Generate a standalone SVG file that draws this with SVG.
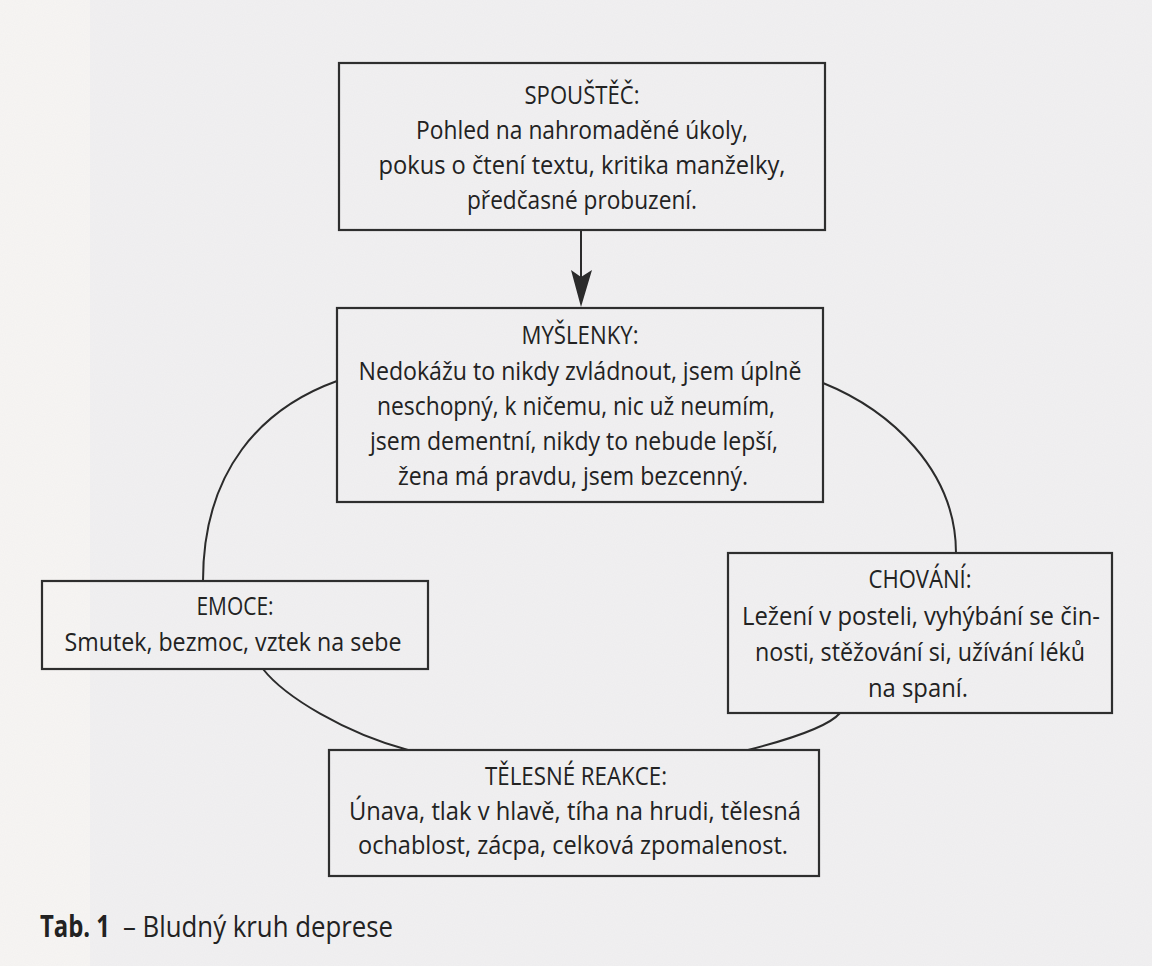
<svg xmlns="http://www.w3.org/2000/svg" width="1152" height="966" viewBox="0 0 1152 966">
  <defs>
    <filter id="paper" x="0" y="0" width="100%" height="100%">
      <feTurbulence type="fractalNoise" baseFrequency="0.9" numOctaves="2" seed="3" result="n"/>
      <feColorMatrix type="matrix" values="0 0 0 0 0.55  0 0 0 0 0.56  0 0 0 0 0.6  0 0 0 0.09 0"/>
    </filter>
    <style>
      .box { fill: none; stroke: #2e2e2e; stroke-width: 2.2; }
      .link { fill: none; stroke: #2b2b2b; stroke-width: 2; }
      .t { font-family: "Open Sans", "Noto Sans", "Liberation Sans", sans-serif; font-size: 25.5px; fill: #222; text-anchor: middle; }
      .cap { font-family: "Open Sans", "Noto Sans", "Liberation Sans", sans-serif; font-size: 30px; fill: #222; }
    </style>
  </defs>

  <rect x="0" y="0" width="1152" height="966" fill="#f1f0f1"/>
  <rect x="0" y="0" width="90" height="966" fill="#f7f5f3"/>
  <rect x="0" y="0" width="1152" height="966" filter="url(#paper)"/>

  <g id="connectors">
    <line class="link" x1="581" y1="230" x2="581" y2="280"/>
    <polygon points="571,270 581,277 592,270 581,307" fill="#2b2b2b"/>
    <path class="link" d="M337,381 C262,408 203,470 203,581"/>
    <path class="link" d="M823,383 C890,410 956,470 956,553"/>
    <path class="link" d="M263,669 C285,697 345,733 408,750"/>
    <path class="link" d="M840,713 C830,725 795,738 748,750"/>
  </g>

  <g id="spoustec">
    <rect class="box" x="339" y="63" width="486" height="167"/>
    <text class="t" x="582" y="104" textLength="115" lengthAdjust="spacingAndGlyphs">SPOUŠTĚČ:</text>
    <text class="t" x="582" y="139" textLength="332" lengthAdjust="spacingAndGlyphs">Pohled na nahromaděné úkoly,</text>
    <text class="t" x="582" y="174" textLength="407" lengthAdjust="spacingAndGlyphs">pokus o čtení textu, kritika manželky,</text>
    <text class="t" x="582" y="209" textLength="230" lengthAdjust="spacingAndGlyphs">předčasné probuzení.</text>
  </g>

  <g id="myslenky">
    <rect class="box" x="337" y="308" width="486" height="194"/>
    <text class="t" x="580" y="344" textLength="117" lengthAdjust="spacingAndGlyphs">MYŠLENKY:</text>
    <text class="t" x="580" y="380" textLength="443" lengthAdjust="spacingAndGlyphs">Nedokážu to nikdy zvládnout, jsem úplně</text>
    <text class="t" x="576" y="415" textLength="398" lengthAdjust="spacingAndGlyphs">neschopný, k ničemu, nic už neumím,</text>
    <text class="t" x="574" y="450" textLength="408" lengthAdjust="spacingAndGlyphs">jsem dementní, nikdy to nebude lepší,</text>
    <text class="t" x="573" y="485" textLength="350" lengthAdjust="spacingAndGlyphs">žena má pravdu, jsem bezcenný.</text>
  </g>

  <g id="emoce">
    <rect class="box" x="42" y="581" width="386" height="88"/>
    <text class="t" x="235" y="615" textLength="77" lengthAdjust="spacingAndGlyphs">EMOCE:</text>
    <text class="t" x="233" y="651" textLength="337" lengthAdjust="spacingAndGlyphs">Smutek, bezmoc, vztek na sebe</text>
  </g>

  <g id="chovani">
    <rect class="box" x="728" y="553" width="384" height="160"/>
    <text class="t" x="920" y="588" textLength="103" lengthAdjust="spacingAndGlyphs">CHOVÁNÍ:</text>
    <text class="t" x="921" y="625" textLength="358" lengthAdjust="spacingAndGlyphs">Ležení v posteli, vyhýbání se čin-</text>
    <text class="t" x="920" y="661" textLength="330" lengthAdjust="spacingAndGlyphs">nosti, stěžování si, užívání léků</text>
    <text class="t" x="918" y="697" textLength="100" lengthAdjust="spacingAndGlyphs">na spaní.</text>
  </g>

  <g id="telesne-reakce">
    <rect class="box" x="329" y="750" width="490" height="126"/>
    <text class="t" x="576" y="785" textLength="182" lengthAdjust="spacingAndGlyphs">TĚLESNÉ REAKCE:</text>
    <text class="t" x="575" y="820" textLength="452" lengthAdjust="spacingAndGlyphs">Únava, tlak v hlavě, tíha na hrudi, tělesná</text>
    <text class="t" x="573" y="854" textLength="430" lengthAdjust="spacingAndGlyphs">ochablost, zácpa, celková zpomalenost.</text>
  </g>

  <g id="caption">
    <text class="cap" x="40" y="937" font-weight="bold" textLength="70" lengthAdjust="spacingAndGlyphs">Tab. 1</text>
    <text class="cap" x="123" y="937" textLength="270" lengthAdjust="spacingAndGlyphs">– Bludný kruh deprese</text>
  </g>
</svg>
